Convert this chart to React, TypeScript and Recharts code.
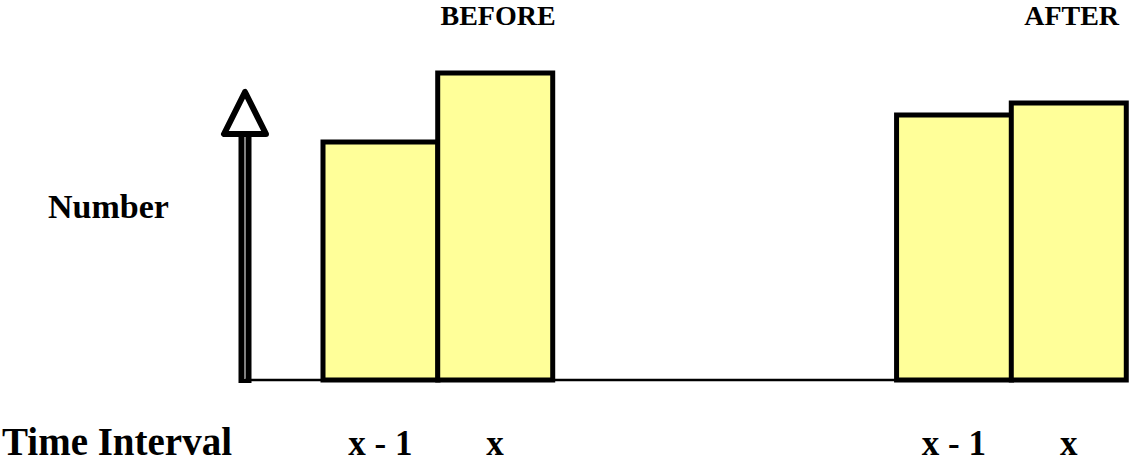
import { BarChart, Bar, XAxis, YAxis, ReferenceLine } from "recharts";

// category slots along the time axis (blank slots make the gap between the two groups)
const categories = ["x - 1", "x", "", "", "", "x - 1", "x"];
const groupLabels = ["", "BEFORE", "", "", "", "", "AFTER"];
const counts = [74.4, 95.9, null, null, null, 82.8, 86.6];
const arrowTop = 90;

const data = categories.map((cat, i) => ({
  cat,
  group: groupLabels[i],
  value: counts[i],
}));

const FONT = "'Liberation Serif', 'Times New Roman', serif";

function TopTick({ x, y, payload }: any) {
  return (
    <text x={x + 3} y={y - 27} textAnchor="middle" fontFamily={FONT} fontWeight="bold" fontSize={28} fill="#000">
      {payload.value}
    </text>
  );
}

function BottomTick({ x, y, payload }: any) {
  return (
    <text x={x} y={y + 67} textAnchor="middle" fontFamily={FONT} fontWeight="bold" fontSize={35} fill="#000">
      {payload.value}
    </text>
  );
}

function ArrowShape({ x1, y1, x2, y2 }: any) {
  const baseY = Math.min(y1, y2);
  const bottom = Math.max(y1, y2) + 3;
  const headH = 42;
  const headW = 21;
  return (
    <g>
      <line x1={x1} y1={bottom} x2={x1} y2={baseY + headH} stroke="#000" strokeWidth={13} />
      <line x1={x1} y1={bottom - 4} x2={x1} y2={baseY + headH + 2} stroke="#fff" strokeWidth={1} />
      <polygon
        points={`${x1},${baseY} ${x1 - headW},${baseY + headH} ${x1 + headW},${baseY + headH}`}
        fill="#fff"
        stroke="#000"
        strokeWidth={6}
        strokeLinejoin="round"
      />
    </g>
  );
}

export default function App() {
  return (
    <div style={{ width: 1133, height: 462, background: "#fff" }}>
      <style>{"body{margin:0}"}</style>
      <BarChart
        width={1133}
        height={462}
        data={data}
        margin={{ top: 0, right: 7, left: 0, bottom: 0 }}
        barCategoryGap={0}
      >
        <XAxis
          xAxisId="top"
          orientation="top"
          dataKey="group"
          height={60}
          axisLine={false}
          tickLine={false}
          interval={0}
          padding={{ left: 78, right: 0 }}
          tick={<TopTick />}
        />
        <XAxis
          dataKey="cat"
          height={82}
          axisLine={{ stroke: "#000", strokeWidth: 2.5 }}
          tickLine={false}
          interval={0}
          padding={{ left: 78, right: 0 }}
          tick={<BottomTick />}
          label={{
            content: ({ viewBox }: any) => (
              <text x={viewBox.x - 243} y={viewBox.y + 75} fontFamily={FONT} fontWeight="bold" fontSize={39} fill="#000">
                Time Interval
              </text>
            ),
          }}
        />
        <XAxis xAxisId="arrow" type="number" domain={[0, 1]} hide />
        <YAxis
          width={245}
          domain={[0, 100]}
          tick={false}
          tickLine={false}
          axisLine={false}
          label={{
            content: ({ viewBox }: any) => (
              <text x={viewBox.x + 48} y={viewBox.y + viewBox.height / 2 - 2} fontFamily={FONT} fontWeight="bold" fontSize={34} fill="#000">
                Number
              </text>
            ),
          }}
        />
        <ReferenceLine
          xAxisId="arrow"
          segment={[{ x: 0, y: 0 }, { x: 0, y: arrowTop }]}
          ifOverflow="visible"
          shape={ArrowShape}
        />
        <Bar dataKey="value" fill="#FFFF99" stroke="#000" strokeWidth={5} isAnimationActive={false} />
      </BarChart>
    </div>
  );
}
